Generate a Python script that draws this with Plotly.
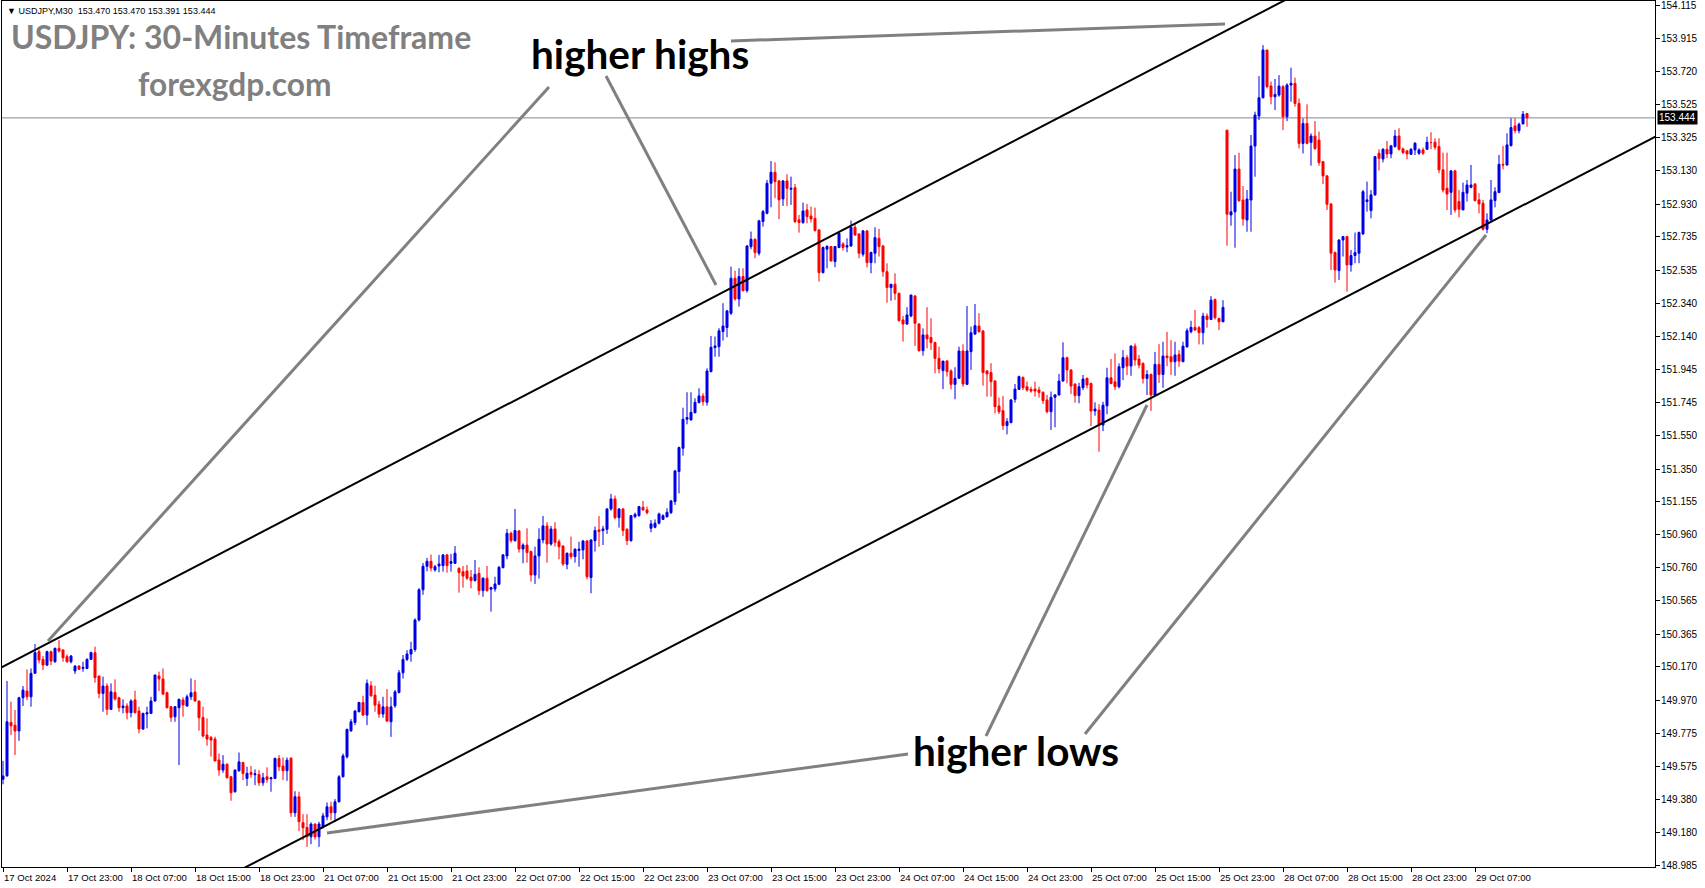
import plotly.graph_objects as go

# ---------------- data (USDJPY M30) ----------------
opens = [
149.50,149.521,149.839,149.823,149.788,149.986,150.026,149.992,150.132,150.261,
150.215,150.181,150.261,150.201,150.281,150.271,150.231,150.201,150.146,150.175,
150.161,150.161,150.215,150.255,150.116,150.012,150.056,149.917,150.018,149.986,
149.927,149.937,149.897,149.973,149.907,149.800,149.889,149.893,149.967,150.116,
150.098,150.016,149.933,149.873,149.927,149.973,149.937,149.992,150.020,149.967,
149.869,149.764,149.750,149.740,149.615,149.555,149.590,149.515,149.426,149.551,
149.600,149.505,149.541,149.527,149.529,149.479,149.515,149.503,149.505,149.624,
149.579,149.551,149.626,149.300,149.396,149.241,149.213,149.157,149.233,149.157,
149.217,149.276,149.336,149.300,149.366,149.515,149.634,149.789,149.839,149.903,
149.958,149.883,150.058,150.002,149.948,149.889,149.932,149.843,149.938,150.018,
150.135,150.215,150.247,150.274,150.450,150.630,150.770,150.800,150.748,150.772,
150.774,150.838,150.788,150.788,150.758,150.738,150.742,150.705,150.685,150.728,
150.625,150.699,150.633,150.635,150.663,150.762,150.832,150.967,150.923,150.981,
150.873,150.897,150.858,150.718,150.832,150.927,151.011,150.903,150.993,150.917,
150.891,150.782,150.848,150.828,150.864,150.868,150.921,150.703,150.923,150.987,
150.983,150.991,151.112,151.172,151.060,151.112,150.991,150.923,151.066,151.072,
151.122,151.106,150.997,151.003,151.027,151.050,151.066,151.090,151.156,151.335,
151.474,151.647,151.643,151.686,151.746,151.786,151.748,151.931,152.074,152.080,
152.170,152.194,152.279,152.488,152.364,152.498,152.414,152.676,152.720,152.637,
152.826,152.875,153.054,153.120,153.068,152.961,153.068,153.018,153.028,152.836,
152.820,152.895,152.859,152.845,152.776,152.521,152.661,152.677,152.587,152.671,
152.692,152.674,152.680,152.792,152.752,152.631,152.770,152.581,152.637,152.726,
152.680,152.527,152.432,152.452,152.398,152.239,152.215,152.263,152.382,152.215,
152.056,152.150,152.134,152.104,152.010,151.937,151.994,151.935,151.855,151.891,
152.054,151.855,152.050,152.155,152.203,152.173,151.935,151.925,151.875,151.726,
151.698,151.609,151.627,151.766,151.825,151.897,151.841,151.825,151.827,151.821,
151.808,151.762,151.692,151.778,151.792,151.875,152.014,151.941,151.857,151.788,
151.835,151.891,151.861,151.696,151.702,151.612,151.727,151.894,151.870,151.841,
151.954,152.014,151.964,152.083,152.006,151.980,151.890,151.914,151.791,151.974,
151.914,152.024,152.020,151.990,152.034,151.990,152.079,152.169,152.195,152.193,
152.163,152.262,152.242,152.361,152.248,152.228,153.371,152.865,152.884,153.139,
152.954,152.835,152.954,153.276,153.455,153.564,153.849,153.634,153.570,153.580,
153.630,153.451,153.640,153.650,153.530,153.292,153.411,153.298,153.336,153.312,
153.183,153.098,152.931,152.641,152.533,152.716,152.736,152.567,152.623,152.637,
152.752,152.945,152.891,152.985,153.233,153.199,153.257,153.229,153.273,153.336,
153.259,153.247,153.227,153.253,153.233,153.253,153.257,153.297,153.299,153.273,
153.134,153.024,153.000,153.128,152.945,152.895,152.995,153.030,153.050,152.955,
152.935,152.780,152.835,152.951,152.999,153.167,153.163,153.279,153.396,153.368,
153.408,153.470]

highs = [
149.61,150.086,149.963,149.913,149.992,150.056,150.155,150.161,150.307,150.275,
150.235,150.267,150.267,150.285,150.330,150.275,150.245,150.241,150.181,150.181,
150.201,150.221,150.261,150.291,150.116,150.112,150.072,150.072,150.096,149.992,
149.977,149.953,149.977,150.028,149.933,149.897,149.933,149.992,150.122,150.142,
150.161,150.022,149.937,149.937,149.981,149.989,150.006,150.102,150.092,149.967,
149.933,149.863,149.758,149.754,149.654,149.644,149.594,149.519,149.559,149.660,
149.604,149.575,149.579,149.559,149.555,149.539,149.571,149.515,149.630,149.644,
149.630,149.630,149.630,149.429,149.426,149.292,149.292,149.243,149.237,149.247,
149.300,149.362,149.366,149.382,149.525,149.654,149.803,149.859,149.913,149.962,
149.998,150.095,150.085,150.058,149.968,149.992,150.038,149.992,150.032,150.151,
150.241,150.270,150.320,150.460,150.640,150.790,150.820,150.840,150.778,150.838,
150.844,150.844,150.844,150.891,150.764,150.772,150.778,150.748,150.808,150.764,
150.705,150.772,150.649,150.708,150.772,150.844,150.993,150.977,151.112,150.987,
150.907,150.997,150.864,150.887,150.997,151.070,151.033,151.011,151.033,150.931,
150.895,150.852,150.947,150.877,150.917,150.927,150.927,150.931,151.007,151.070,
151.011,151.116,151.202,151.192,151.116,151.116,150.997,151.076,151.090,151.130,
151.160,151.126,151.046,151.050,151.090,151.080,151.116,151.166,151.345,151.484,
151.716,151.808,151.808,151.772,151.832,151.802,151.951,152.144,152.140,152.190,
152.339,152.299,152.557,152.533,152.547,152.547,152.686,152.766,152.726,152.836,
152.895,153.074,153.187,153.179,153.074,153.074,153.108,153.094,153.050,152.865,
152.939,152.931,152.915,152.909,152.780,152.677,152.686,152.680,152.680,152.766,
152.702,152.726,152.832,152.812,152.756,152.776,152.776,152.647,152.792,152.782,
152.686,152.577,152.454,152.517,152.402,152.263,152.315,152.388,152.388,152.219,
152.189,152.315,152.249,152.110,152.080,151.994,152.000,151.945,151.957,152.080,
152.094,152.322,152.199,152.334,152.279,152.179,151.941,151.981,151.881,151.776,
151.786,151.653,151.768,151.857,151.907,151.901,151.871,151.841,151.871,151.841,
151.812,151.792,151.812,151.796,151.917,152.106,152.020,151.945,151.861,151.865,
151.911,151.895,151.865,151.748,151.737,151.751,151.954,152.006,152.040,151.980,
152.059,152.030,152.089,152.099,152.030,151.986,151.940,151.920,152.049,152.095,
152.109,152.168,152.119,152.109,152.059,152.109,152.189,152.234,152.298,152.203,
152.282,152.278,152.381,152.367,152.252,152.357,153.371,153.004,153.222,153.236,
153.037,153.014,153.342,153.481,153.693,153.878,153.849,153.660,153.676,153.699,
153.640,153.650,153.743,153.684,153.560,153.441,153.525,153.352,153.425,153.362,
153.187,153.104,152.935,152.647,152.720,152.740,152.740,152.657,152.760,152.766,
153.014,153.064,153.014,153.217,153.257,153.263,153.306,153.283,153.372,153.382,
153.267,153.253,153.263,153.299,153.263,153.267,153.332,153.358,153.322,153.322,
153.237,153.237,153.134,153.134,153.014,153.058,153.074,153.163,153.054,152.995,
152.955,152.875,153.074,153.030,153.223,153.277,153.352,153.442,153.442,153.416,
153.485,153.470]

lows = [
149.47,149.515,149.764,149.645,149.730,149.937,149.972,149.933,150.132,150.191,
150.151,150.175,150.181,150.195,150.255,150.201,150.195,150.191,150.128,150.152,
150.141,150.157,150.211,150.076,149.983,149.903,149.883,149.913,149.969,149.903,
149.893,149.857,149.869,149.893,149.774,149.794,149.804,149.893,149.963,150.026,
150.002,149.923,149.843,149.843,149.585,149.873,149.933,149.973,149.963,149.790,
149.750,149.700,149.635,149.609,149.521,149.539,149.505,149.372,149.420,149.545,
149.495,149.461,149.509,149.465,149.461,149.461,149.479,149.426,149.501,149.549,
149.495,149.491,149.276,149.276,149.191,149.137,149.097,149.113,149.141,149.097,
149.207,149.256,149.256,149.247,149.362,149.511,149.624,149.783,149.823,149.899,
149.877,149.823,149.992,149.903,149.867,149.867,149.843,149.753,149.926,150.012,
150.101,150.205,150.201,150.260,150.440,150.600,150.740,150.740,150.738,150.734,
150.738,150.732,150.738,150.784,150.613,150.643,150.689,150.639,150.679,150.599,
150.589,150.619,150.500,150.619,150.657,150.758,150.812,150.911,150.917,150.852,
150.788,150.792,150.679,150.665,150.697,150.907,150.792,150.893,150.887,150.812,
150.772,150.752,150.812,150.792,150.768,150.812,150.693,150.609,150.858,150.887,
150.897,150.963,151.102,151.050,151.001,150.951,150.897,150.917,151.056,151.066,
151.102,151.080,150.973,150.997,151.020,151.046,151.060,151.082,151.136,151.205,
151.430,151.617,151.639,151.682,151.742,151.728,151.728,151.927,152.020,152.020,
152.116,152.136,152.269,152.354,152.319,152.408,152.402,152.661,152.607,152.623,
152.796,152.869,152.911,152.965,152.840,152.919,152.919,152.925,152.816,152.760,
152.812,152.816,152.820,152.766,152.468,152.517,152.547,152.587,152.553,152.667,
152.653,152.643,152.676,152.740,152.607,152.617,152.553,152.517,152.577,152.617,
152.497,152.342,152.354,152.358,152.229,152.110,152.209,152.255,152.084,152.050,
152.026,152.070,152.060,151.921,151.921,151.827,151.901,151.825,151.766,151.891,
151.841,151.851,151.941,152.150,152.163,151.847,151.782,151.782,151.682,151.678,
151.583,151.557,151.623,151.746,151.821,151.821,151.811,151.806,151.782,151.776,
151.738,151.682,151.583,151.599,151.788,151.871,151.861,151.798,151.746,151.742,
151.821,151.831,151.607,151.668,151.453,151.576,151.677,151.855,151.821,151.831,
151.880,151.910,151.906,151.966,151.950,151.860,151.791,151.697,151.787,151.864,
151.834,151.964,151.910,151.906,151.960,151.990,152.073,152.159,152.173,152.093,
152.093,152.193,152.238,152.242,152.178,152.228,152.682,152.801,152.670,152.944,
152.801,152.765,152.765,153.093,153.431,153.560,153.620,153.525,153.491,153.570,
153.371,153.425,153.540,153.511,153.262,153.232,153.286,153.159,153.252,153.159,
153.050,152.895,152.537,152.462,152.478,152.617,152.408,152.527,152.577,152.577,
152.746,152.885,152.845,152.979,153.130,153.179,153.203,153.203,153.267,153.249,
153.229,153.197,153.223,153.223,153.223,153.223,153.253,153.257,153.253,153.114,
152.999,152.895,152.865,152.879,152.851,152.895,152.945,153.024,152.945,152.875,
152.772,152.756,152.831,152.911,152.995,153.137,153.159,153.273,153.352,153.352,
153.406,153.391]

closes = [
149.52,149.843,149.819,149.788,149.986,150.032,149.992,150.132,150.255,150.211,
150.181,150.261,150.205,150.281,150.265,150.225,150.201,150.235,150.175,150.156,
150.167,150.215,150.255,150.106,150.012,150.056,149.917,150.022,149.979,149.927,
149.937,149.897,149.967,149.897,149.800,149.893,149.897,149.967,150.122,150.098,
150.008,149.927,149.869,149.933,149.977,149.943,149.992,150.016,149.967,149.867,
149.758,149.740,149.734,149.609,149.555,149.590,149.509,149.420,149.555,149.604,
149.535,149.535,149.529,149.533,149.479,149.509,149.499,149.509,149.624,149.575,
149.551,149.614,149.300,149.396,149.247,149.211,149.157,149.233,149.157,149.233,
149.282,149.336,149.300,149.366,149.515,149.640,149.797,149.843,149.907,149.958,
149.883,150.072,149.998,149.942,149.889,149.932,149.847,149.932,150.022,150.135,
150.215,150.247,150.274,150.450,150.630,150.770,150.800,150.760,150.768,150.784,
150.838,150.774,150.798,150.848,150.732,150.712,150.699,150.685,150.722,150.625,
150.699,150.625,150.643,150.665,150.764,150.838,150.967,150.923,150.983,150.873,
150.897,150.852,150.718,150.832,150.931,151.011,150.903,150.993,150.913,150.887,
150.784,150.848,150.828,150.872,150.873,150.921,150.708,150.927,150.983,150.977,
150.993,151.112,151.172,151.060,151.112,150.983,150.923,151.072,151.080,151.126,
151.106,151.090,151.023,151.027,151.082,151.072,151.092,151.160,151.339,151.478,
151.647,151.657,151.688,151.748,151.786,151.752,151.935,152.076,152.084,152.174,
152.203,152.293,152.488,152.364,152.498,152.414,152.680,152.720,152.641,152.830,
152.885,153.054,153.120,153.064,152.955,153.068,153.024,153.024,152.826,152.820,
152.889,152.855,152.841,152.772,152.521,152.671,152.677,152.591,152.677,152.756,
152.671,152.682,152.792,152.746,152.637,152.770,152.581,152.641,152.730,152.676,
152.527,152.432,152.452,152.398,152.235,152.215,152.269,152.388,152.219,152.056,
152.150,152.126,152.104,152.010,151.947,151.994,151.931,151.855,151.891,152.054,
151.857,152.054,152.163,152.205,152.169,151.925,151.917,151.871,151.722,151.692,
151.609,151.633,151.762,151.827,151.901,151.835,151.821,151.815,151.815,151.806,
151.758,151.692,151.778,151.792,151.875,152.014,151.941,151.845,151.788,151.841,
151.887,151.851,151.696,151.708,151.612,151.731,151.894,151.860,151.841,151.960,
152.014,151.964,152.083,152.000,151.970,151.890,151.914,151.791,151.974,151.914,
152.024,152.014,151.990,152.030,151.994,152.083,152.175,152.195,152.179,152.163,
152.262,152.242,152.357,152.252,152.228,152.314,152.870,152.884,153.139,152.950,
152.841,152.960,153.276,153.461,153.564,153.849,153.630,153.570,153.584,153.634,
153.451,153.640,153.650,153.530,153.292,153.411,153.292,153.336,153.262,153.177,
153.098,152.929,152.637,152.537,152.716,152.736,152.567,152.623,152.641,152.760,
153.004,152.955,152.985,153.213,153.203,153.257,153.229,153.277,153.336,153.257,
153.237,153.229,153.257,153.293,153.253,153.233,153.299,153.297,153.269,153.134,
153.014,152.990,153.128,152.895,152.899,153.000,153.044,153.044,152.951,152.931,
152.780,152.835,152.955,153.004,153.167,153.163,153.283,153.386,153.368,153.406,
153.466,153.444]

x_tick_labels = ["17 Oct 2024", "17 Oct 23:00", "18 Oct 07:00", "18 Oct 15:00",
                 "18 Oct 23:00", "21 Oct 07:00", "21 Oct 15:00", "21 Oct 23:00",
                 "22 Oct 07:00", "22 Oct 15:00", "22 Oct 23:00", "23 Oct 07:00",
                 "23 Oct 15:00", "23 Oct 23:00", "24 Oct 07:00", "24 Oct 15:00",
                 "24 Oct 23:00", "25 Oct 07:00", "25 Oct 15:00", "25 Oct 23:00",
                 "28 Oct 07:00", "28 Oct 15:00", "28 Oct 23:00", "29 Oct 07:00"]
bars_per_label = 16

y_tick_values = [148.985, 149.180, 149.380, 149.575, 149.775, 149.970, 150.170,
                 150.365, 150.565, 150.760, 150.960, 151.155, 151.350, 151.550,
                 151.745, 151.945, 152.140, 152.340, 152.535, 152.735, 152.930,
                 153.130, 153.325, 153.525, 153.720, 153.915, 154.115]

last_bar = "USDJPY,M30  153.470 153.470 153.391 153.444"
last_price = 153.444

# analyst channel (bar index, price)
upper_channel = [(-1, 150.160), (330, 154.264)]
lower_channel = [(60, 148.968), (414, 153.343)]

# ---------------- layout geometry ----------------
W, H = 1705, 888
ML, MR, MT, MB = 2, 50, 1, 21
PW, PH = W - ML - MR, H - MT - MB
X_RANGE = [-0.25, -0.25 + PW / 4.0]
Y_RANGE = [148.977, 154.141]


def paper(xp, yp):
    return (xp - ML) / PW, 1 - (yp - MT) / PH


BLUE = "#0000e6"
RED = "#ff0000"
AXIS_FONT = dict(family="Liberation Sans", size=9.6, color="black")

n = len(closes)
xs = list(range(n))

fig = go.Figure()
fig.add_trace(go.Candlestick(
    x=xs, open=opens, high=highs, low=lows, close=closes,
    increasing=dict(line=dict(color=BLUE, width=1), fillcolor=BLUE),
    decreasing=dict(line=dict(color=RED, width=1), fillcolor=RED),
    whiskerwidth=0, hoverinfo="skip", showlegend=False))

for seg in (upper_channel, lower_channel):
    fig.add_trace(go.Scatter(
        x=[p[0] for p in seg], y=[p[1] for p in seg], mode="lines",
        line=dict(color="black", width=2), hoverinfo="skip", showlegend=False))

# current price line
fig.add_shape(type="line", xref="paper", yref="y", x0=0, x1=1,
              y0=last_price, y1=last_price,
              line=dict(color="#7f8b98", width=1), layer="below")

# grey pointer lines (pixel positions of the drawing)
pointer_lines = [
    ((549, 87), (48, 641)),
    ((606, 76), (716, 285)),
    ((731, 41), (1225, 24)),
    ((908, 754), (327, 833)),
    ((986, 736), (1147, 405)),
    ((1085, 734), (1486, 235)),
]
for (a, b) in pointer_lines:
    x0, y0 = paper(*a)
    x1, y1 = paper(*b)
    fig.add_shape(type="line", xref="paper", yref="paper", x0=x0, y0=y0, x1=x1, y1=y1,
                  line=dict(color="#808080", width=3), layer="above")

ann = []
# x-axis labels, left aligned at the tick like MT4
for k, lab in enumerate(x_tick_labels):
    ann.append(dict(x=k * bars_per_label, y=0, xref="x", yref="paper",
                    text=lab, showarrow=False, xanchor="left", yanchor="top",
                    xshift=-1, yshift=-3, font=AXIS_FONT))
# price-scale labels, left aligned after the tick
for v in y_tick_values:
    ann.append(dict(x=1, y=v, xref="paper", yref="y", text=f"{v:.3f}",
                    showarrow=False, xanchor="left", yanchor="middle",
                    xshift=4, font=dict(family="Liberation Sans", size=10, color="black")))

hx, hy = paper(5, 11)
ann.append(dict(x=hx, y=hy, xref="paper", yref="paper", text="\u25bc " + last_bar,
                showarrow=False, xanchor="left", yanchor="middle",
                font=dict(family="Liberation Sans", size=9, color="black")))

tx, ty = paper(9, 36)
ann.append(dict(x=tx, y=ty, xref="paper", yref="paper",
                text="<b>USDJPY: 30-Minutes Timeframe</b>", showarrow=False,
                xanchor="left", yanchor="middle",
                font=dict(family="Lato", size=32, color="#808080")))
fx, fy = paper(234, 84)
ann.append(dict(x=fx, y=fy, xref="paper", yref="paper", text="<b>forexgdp.com</b>",
                showarrow=False, xanchor="center", yanchor="middle",
                font=dict(family="Lato", size=31.7, color="#808080")))

hhx, hhy = paper(640, 54)
ann.append(dict(x=hhx, y=hhy, xref="paper", yref="paper", text="<b>higher highs</b>",
                showarrow=False, xanchor="center", yanchor="middle",
                font=dict(family="Lato", size=40.5, color="black")))
hlx, hly = paper(1016, 750)
ann.append(dict(x=hlx, y=hly, xref="paper", yref="paper", text="<b>higher lows</b>",
                showarrow=False, xanchor="center", yanchor="middle",
                font=dict(family="Lato", size=40.5, color="black")))

# current price tag on the price scale
ann.append(dict(x=1, y=last_price, xref="paper", yref="y", text=f"{last_price:.3f}",
                showarrow=False, xanchor="left", yanchor="middle", xshift=2,
                bgcolor="black", borderpad=1,
                font=dict(family="Liberation Sans", size=10, color="white")))

fig.update_layout(
    width=W, height=H,
    margin=dict(l=ML, r=MR, t=MT, b=MB),
    paper_bgcolor="white", plot_bgcolor="white",
    boxgap=0.5, boxgroupgap=0,
    annotations=ann,
    xaxis=dict(range=X_RANGE, showgrid=False, zeroline=False,
               rangeslider=dict(visible=False),
               tickmode="array",
               tickvals=[k * bars_per_label for k in range(len(x_tick_labels))],
               showticklabels=False, ticks="outside", ticklen=4,
               tickcolor="black", showline=True, linecolor="black",
               linewidth=1, mirror=True),
    yaxis=dict(range=Y_RANGE, side="right", showgrid=False, zeroline=False,
               tickmode="array", tickvals=y_tick_values,
               showticklabels=False, ticks="outside", ticklen=4, tickcolor="black",
               showline=True, linecolor="black", linewidth=1, mirror=True),
    hovermode=False,
)

fig.write_html("out.html",
               config={"displayModeBar": False, "staticPlot": True},
               post_script="document.body.style.margin='0';document.body.style.overflow='hidden';")
